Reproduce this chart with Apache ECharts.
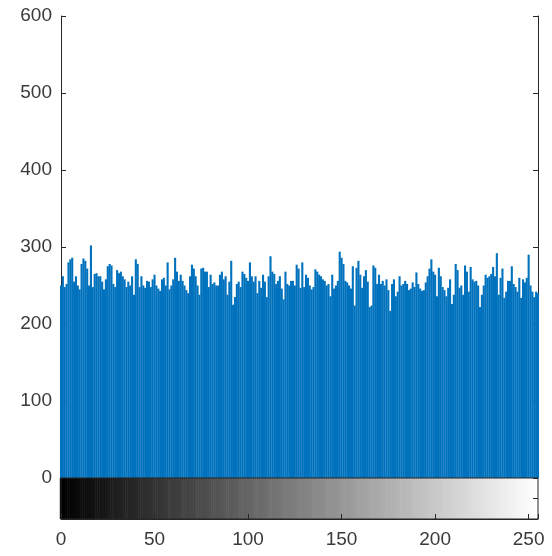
<!DOCTYPE html>
<html>
<head>
<meta charset="utf-8">
<script src="https://cdn.jsdelivr.net/npm/echarts@6/dist/echarts.min.js"></script>
<style>html,body{margin:0;padding:0;background:#fff}#c{width:552px;height:556px}</style>
</head>
<body>
<div id="c"></div>
<script>
// Histogram counts for gray levels 0..255
const counts = [
250,262,248,252,280,284,286,255,262,250,245,278,285,282,272,250,302,248,265,266,
262,262,255,245,258,275,278,276,252,248,270,266,268,262,258,248,255,250,262,238,
284,278,248,262,250,247,256,255,248,258,264,250,246,243,258,260,250,280,245,250,
258,286,268,256,264,256,250,244,240,262,277,272,262,250,238,272,273,268,268,248,
264,252,254,250,250,264,268,258,262,238,255,282,225,235,252,255,248,268,265,260,
256,280,262,255,262,240,256,247,264,255,235,262,288,268,265,252,256,262,246,232,
268,252,250,256,256,250,277,272,247,280,248,264,260,250,245,248,271,268,264,262,
258,256,250,252,236,264,246,250,256,294,286,278,256,254,250,246,275,224,273,282,
264,247,262,270,255,222,224,276,273,252,264,252,256,250,258,244,217,252,258,236,
242,262,250,252,256,252,244,246,254,248,267,252,246,243,244,254,262,272,284,268,
264,236,273,262,248,244,236,247,258,226,238,278,270,247,250,238,276,268,242,274,
258,255,256,250,222,238,250,264,260,262,265,274,262,292,238,260,272,234,242,256,
256,275,252,248,242,260,234,258,254,260,290,250,242,235,242,240
];
const grayLevels = counts.map((_, i) => i);
const yTicks = [0, 100, 200, 300, 400, 500, 600];
const xTicks = [0, 50, 100, 150, 200, 250];

const barColor = '#0072BD';
const axisColor = '#262626';
const textColor = '#3a3a3a';
const font = 'Liberation Sans, Arial, sans-serif';

const chart = echarts.init(document.getElementById('c'), null, {renderer: 'canvas'});
const lineStyle = {color: axisColor, width: 1};
const option = {
  animation: false,
  backgroundColor: '#ffffff',
  grid: [
    {left: 61, right: 14, top: 16, height: 462},
    {left: 61, right: 14, top: 478, height: 41, show: true, borderColor: axisColor, borderWidth: 1, backgroundColor: 'transparent', z: 5}
  ],
  xAxis: [
    {gridIndex: 0, type: 'value', min: 0, max: 255, interval: 50, position: 'top',
     axisLine: {show: true, lineStyle}, axisTick: {show: true, inside: true, length: 5, lineStyle},
     axisLabel: {show: false}, splitLine: {show: false}},
    {gridIndex: 1, type: 'value', min: 0, max: 255, interval: 50, position: 'bottom',
     axisLine: {show: true, onZero: false, lineStyle}, axisTick: {show: true, inside: true, length: 5, lineStyle},
     axisLabel: {show: true, color: textColor, fontSize: 19, fontFamily: font, margin: 11,
       formatter: v => xTicks.includes(v) ? String(v) : ''},
     splitLine: {show: false}, z: 6}
  ],
  yAxis: [
    {gridIndex: 0, type: 'value', min: 0, max: 600, interval: 100, position: 'left',
     axisLine: {show: true, lineStyle}, axisTick: {show: true, inside: true, length: 5, lineStyle},
     axisLabel: {show: true, color: textColor, fontSize: 19, fontFamily: font, margin: 9,
       formatter: v => yTicks.includes(v) ? String(v) : ''},
     splitLine: {show: false}},
    {gridIndex: 0, type: 'value', min: 0, max: 600, interval: 100, position: 'right',
     axisLine: {show: true, lineStyle}, axisTick: {show: true, inside: true, length: 5, lineStyle},
     axisLabel: {show: false}, splitLine: {show: false}},
    {gridIndex: 1, type: 'value', min: 0, max: 1, show: false},
    {gridIndex: 1, type: 'value', min: 0, max: 1, interval: 0.5, position: 'right',
     axisLine: {show: false}, axisTick: {show: true, inside: true, length: 5, lineStyle},
     axisLabel: {show: false}, splitLine: {show: false}, z: 6}
  ],
  series: [
    {type: 'bar', xAxisIndex: 0, yAxisIndex: 0, barWidth: 2.1, clip: true,
     itemStyle: {color: barColor},
     data: grayLevels.map((g, i) => [g, counts[i]])},
    {type: 'bar', xAxisIndex: 1, yAxisIndex: 2, barWidth: 2.4, clip: true, z: 1,
     data: grayLevels.map(g => ({value: [g, 1], itemStyle: {color: `rgb(${g},${g},${g})`}}))}
  ]
};
chart.setOption(option);
</script>
</body>
</html>
